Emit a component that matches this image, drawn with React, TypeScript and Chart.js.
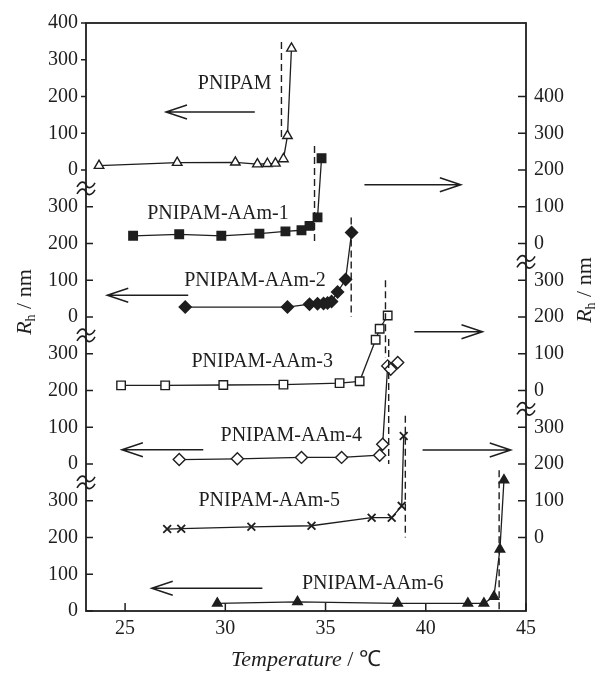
import React, { useEffect, useRef } from 'react';
import { Chart, registerables } from 'chart.js';

Chart.register(...registerables);

const FONT = '"Liberation Serif", "Times New Roman", Times, serif';
const INK = '#1e1e1e';

// ---- x axis ----
const xMin = 23.05;
const xMax = 45;
const xTicks = [25, 30, 35, 40, 45];

// ---- series ----
const seriesNames = ['PNIPAM', 'PNIPAM-AAm-1', 'PNIPAM-AAm-2', 'PNIPAM-AAm-3', 'PNIPAM-AAm-4', 'PNIPAM-AAm-5', 'PNIPAM-AAm-6'];

const tPNIPAM = [23.7, 27.6, 30.5, 31.6, 32.1, 32.5, 32.9, 33.1, 33.3];
const rPNIPAM = [12, 20, 21, 16, 17, 18, 30, 93, 331];

const tAAm1 = [25.4, 27.7, 29.8, 31.7, 33.0, 33.8, 34.2, 34.6, 34.8];
const rAAm1 = [21, 25, 21, 27, 33, 36, 48, 71, 232];

const tAAm2 = [28.0, 33.1, 34.2, 34.6, 34.9, 35.1, 35.3, 35.6, 36.0, 36.3];
const rAAm2 = [27, 27, 35, 36, 37, 38, 42, 68, 102, 230];

const tAAm3 = [24.8, 27.0, 29.9, 32.9, 35.7, 36.7, 37.5, 37.7, 38.1];
const rAAm3 = [14, 14, 15, 16, 20, 25, 138, 168, 204];

const tAAm4 = [27.7, 30.6, 33.8, 35.8, 37.7, 37.85, 38.1, 38.25, 38.6];
const rAAm4 = [12, 14, 18, 18, 24, 54, 267, 258, 276];

const tAAm5 = [27.1, 27.8, 31.3, 34.3, 37.3, 38.3, 38.8, 38.9];
const rAAm5 = [23, 24, 29, 32, 54, 54, 86, 276];

const tAAm6 = [29.6, 33.6, 38.6, 42.1, 42.9, 43.4, 43.7, 43.9];
const rAAm6 = [21, 25, 21, 21, 21, 39, 168, 356];

// ---- stacked (broken) axes, in common stack units (100 nm = same height everywhere) ----
const stackMax = 1600;
const seriesOffsets = [1200, 1000, 800, 600, 400, 200, 0];
const leftSegOffsets = [1200, 800, 400, 0];
const leftSegTicks = [[0, 100, 200, 300, 400], [0, 100, 200, 300], [0, 100, 200, 300], [0, 100, 200, 300]];
const leftSegOutward = [true, false, false, false];
const rightSegOffsets = [1000, 600, 200];
const rightSegTicks = [[0, 100, 200, 300, 400], [0, 100, 200, 300], [0, 100, 200, 300]];
const leftBreaks = [1150, 750, 350];
const rightBreaks = [950, 550];

// ---- marker styles ----
const markerStyles = ['triangle', 'rect', 'rectRot', 'rect', 'rectRot', 'crossRot', 'triangle'];
const markerFilled = [false, true, true, false, false, true, true];
const markerRadius = [5.5, 6, 6, 6, 6, 5.5, 5.5];

// ---- annotations (in each series' own units) ----
const dashX = [32.8, 34.45, 36.28, 37.99, 38.15, 38.98, 43.66];
const dashFrom = [348, 265, 271, 300, 340, 331, 383];
const dashTo = [80, 0, 0, 90, 0, 0, 0];
const labelX = [30.47, 29.63, 31.48, 31.84, 33.29, 32.19, 37.35];
const labelY = [235, 80, 100, 77, 77, 100, 75];
const arrowFromX = [31.47, 36.94, 28.15, 39.43, 28.9, 39.84, 31.85];
const arrowToX = [27.04, 41.75, 24.11, 42.83, 24.84, 44.24, 26.33];
const arrowY = [158, 160, 59, 160, 39, 238, 62];

const allT = [tPNIPAM, tAAm1, tAAm2, tAAm3, tAAm4, tAAm5, tAAm6];
const allR = [rPNIPAM, rAAm1, rAAm2, rAAm3, rAAm4, rAAm5, rAAm6];

function buildTickMap(offsets: number[], ticks: number[][]) {
  const m = new Map<number, string>();
  offsets.forEach((off, i) => ticks[i].forEach((v) => m.set(off + v, String(v))));
  return m;
}
const leftTickMap = buildTickMap(leftSegOffsets, leftSegTicks);
const rightTickMap = buildTickMap(rightSegOffsets, rightSegTicks);

function drawBreak(c: CanvasRenderingContext2D, cx: number, cy: number) {
  c.save();
  c.lineWidth = 1.6;
  c.strokeStyle = INK;
  for (const dy of [-3.5, 3.5]) {
    const y = cy + dy;
    c.beginPath();
    c.moveTo(cx - 9, y + 2);
    c.bezierCurveTo(cx - 5, y - 5, cx - 1, y - 3, cx, y);
    c.bezierCurveTo(cx + 1, y + 3, cx + 5, y + 5, cx + 9, y - 2);
    c.stroke();
  }
  c.restore();
}

function drawRhTitle(c: CanvasRenderingContext2D, cx: number, cy: number) {
  c.save();
  c.translate(cx, cy);
  c.rotate(-Math.PI / 2);
  c.fillStyle = INK;
  c.textBaseline = 'middle';
  c.textAlign = 'left';
  const fR = `italic 22px ${FONT}`;
  const fS = `14px ${FONT}`;
  const fN = `22px ${FONT}`;
  c.font = fR; const wR = c.measureText('R').width;
  c.font = fS; const wS = c.measureText('h').width;
  c.font = fN; const wN = c.measureText(' / nm').width;
  let x = -(wR + wS + wN) / 2;
  c.font = fR; c.fillText('R', x, 0); x += wR;
  c.font = fS; c.fillText('h', x, 6); x += wS;
  c.font = fN; c.fillText(' / nm', x, 0);
  c.restore();
}

const decor = {
  id: 'decor',
  afterDatasetsDraw(chart: any) {
    const c: CanvasRenderingContext2D = chart.ctx;
    const xs = chart.scales.x;
    c.save();
    c.strokeStyle = INK;
    c.fillStyle = INK;
    // dashed transition lines
    c.lineWidth = 1.4;
    c.setLineDash([7, 4]);
    seriesNames.forEach((_, i) => {
      const ys = chart.scales['ys' + i];
      const px = xs.getPixelForValue(dashX[i]);
      c.beginPath();
      c.moveTo(px, ys.getPixelForValue(dashFrom[i]));
      c.lineTo(px, ys.getPixelForValue(dashTo[i]));
      c.stroke();
    });
    c.setLineDash([]);
    // arrows
    c.lineWidth = 1.5;
    seriesNames.forEach((_, i) => {
      const ys = chart.scales['ys' + i];
      const x0 = xs.getPixelForValue(arrowFromX[i]);
      const x1 = xs.getPixelForValue(arrowToX[i]);
      const y = ys.getPixelForValue(arrowY[i]);
      const s = Math.sign(x1 - x0);
      c.beginPath();
      c.moveTo(x0, y);
      c.lineTo(x1, y);
      c.moveTo(x1 - s * 21, y - 7);
      c.lineTo(x1, y);
      c.lineTo(x1 - s * 21, y + 7);
      c.stroke();
    });
    // series labels
    c.font = `20px ${FONT}`;
    c.textAlign = 'center';
    c.textBaseline = 'middle';
    seriesNames.forEach((name, i) => {
      const ys = chart.scales['ys' + i];
      c.fillText(name, xs.getPixelForValue(labelX[i]), ys.getPixelForValue(labelY[i]));
    });
    c.restore();
  },
  afterDraw(chart: any) {
    const c: CanvasRenderingContext2D = chart.ctx;
    const a = chart.chartArea;
    const xs = chart.scales.x;
    const yL = chart.scales.yL;
    const yR = chart.scales.yR;
    c.save();
    c.strokeStyle = INK;
    c.lineWidth = 1.8;
    c.strokeRect(a.left, a.top, a.right - a.left, a.bottom - a.top);
    // tick marks
    c.lineWidth = 1.5;
    c.beginPath();
    xTicks.forEach((v) => {
      const px = xs.getPixelForValue(v);
      c.moveTo(px, a.bottom);
      c.lineTo(px, a.bottom - 8);
    });
    leftSegOffsets.forEach((off, i) => {
      leftSegTicks[i].forEach((v) => {
        const py = yL.getPixelForValue(off + v);
        c.moveTo(a.left, py);
        c.lineTo(leftSegOutward[i] ? a.left - 5 : a.left + 7, py);
      });
    });
    rightSegOffsets.forEach((off, i) => {
      rightSegTicks[i].forEach((v) => {
        const py = yR.getPixelForValue(off + v);
        c.moveTo(a.right, py);
        c.lineTo(a.right - 8, py);
      });
    });
    c.stroke();
    // axis breaks
    leftBreaks.forEach((v) => drawBreak(c, a.left, yL.getPixelForValue(v)));
    rightBreaks.forEach((v) => drawBreak(c, a.right, yR.getPixelForValue(v)));
    // axis titles
    drawRhTitle(c, 25, 302);
    drawRhTitle(c, 585, 290);
    c.fillStyle = INK;
    c.textBaseline = 'middle';
    c.textAlign = 'left';
    const fI = `italic 22px ${FONT}`;
    const fN = `22px ${FONT}`;
    c.font = fI; const w1 = c.measureText('Temperature').width;
    c.font = fN; const w2 = c.measureText(' / ℃').width;
    let x = (a.left + a.right) / 2 - (w1 + w2) / 2;
    c.font = fI; c.fillText('Temperature', x, 660); x += w1;
    c.font = fN; c.fillText(' / ℃', x, 660);
    c.restore();
  },
};

export default function App() {
  const ref = useRef<HTMLCanvasElement>(null);
  useEffect(() => {
    const canvas = ref.current;
    if (!canvas) return;
    const datasets = seriesNames.map((name, i) => ({
      label: name,
      data: allT[i].map((t, j) => ({ x: t, y: allR[i][j] })),
      yAxisID: 'ys' + i,
      borderColor: INK,
      borderWidth: 1.3,
      pointStyle: markerStyles[i],
      pointRadius: markerRadius[i],
      pointBackgroundColor: markerFilled[i] ? INK : '#ffffff',
      pointBorderColor: INK,
      pointBorderWidth: markerStyles[i] === 'crossRot' ? 1.8 : 1.4,
      fill: false,
      tension: 0,
      clip: false as any,
    }));
    const tickFont = { family: FONT, size: 20 };
    const scales: any = {
      x: {
        type: 'linear',
        min: xMin,
        max: xMax,
        afterBuildTicks: (s: any) => { s.ticks = xTicks.map((v) => ({ value: v })); },
        afterFit: (s: any) => { s.height = 62; },
        grid: { display: false, drawTicks: false },
        border: { display: false },
        ticks: { font: tickFont, color: INK, padding: 6, autoSkip: false, maxRotation: 0 },
      },
      yL: {
        type: 'linear',
        position: 'left',
        min: 0,
        max: stackMax,
        afterBuildTicks: (s: any) => { s.ticks = Array.from(leftTickMap.keys()).sort((p, q) => p - q).map((v) => ({ value: v })); },
        afterFit: (s: any) => { s.width = 86; },
        grid: { display: false, drawTicks: false },
        border: { display: false },
        ticks: { font: tickFont, color: INK, padding: 8, autoSkip: false, callback: (v: any) => leftTickMap.get(Number(v)) ?? '' },
      },
      yR: {
        type: 'linear',
        position: 'right',
        min: 0,
        max: stackMax,
        afterBuildTicks: (s: any) => { s.ticks = Array.from(rightTickMap.keys()).sort((p, q) => p - q).map((v) => ({ value: v })); },
        afterFit: (s: any) => { s.width = 76; },
        grid: { display: false, drawTicks: false },
        border: { display: false },
        ticks: { font: tickFont, color: INK, padding: 8, autoSkip: false, callback: (v: any) => rightTickMap.get(Number(v)) ?? '' },
      },
    };
    seriesOffsets.forEach((off, i) => {
      scales['ys' + i] = { type: 'linear', display: false, min: -off, max: stackMax - off };
    });
    const chart = new Chart(canvas, {
      type: 'line',
      data: { datasets },
      options: {
        responsive: false,
        animation: false,
        devicePixelRatio: 1,
        layout: { padding: { top: 23, left: 0, right: 0, bottom: 0 } },
        plugins: { legend: { display: false }, tooltip: { enabled: false } },
        scales,
      },
      plugins: [decor],
    } as any);
    return () => chart.destroy();
  }, []);
  return (
    <div style={{ position: 'absolute', left: 0, top: 0, width: 602, height: 673, background: '#fff' }}>
      <canvas ref={ref} width={602} height={673} style={{ width: 602, height: 673, display: 'block' }} />
    </div>
  );
}
